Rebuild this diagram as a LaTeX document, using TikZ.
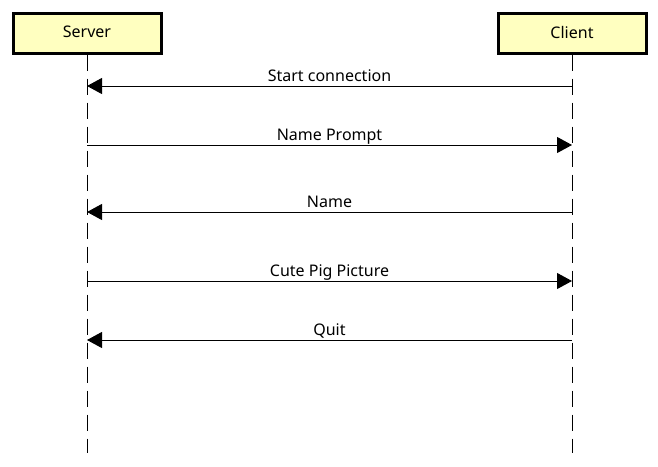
\documentclass[tikz,border=0pt]{standalone}
\usepackage{fontspec}
\setmainfont{Noto Sans}
\usetikzlibrary{arrows.meta}
\definecolor{boxfill}{HTML}{FFFFC0}
\begin{document}
\begin{tikzpicture}[x=1pt,y=-1pt,
  actor/.style={draw=black,line width=3pt,fill=boxfill,minimum width=148pt,minimum height=40pt,inner sep=0pt,font=\fontsize{16}{19}\selectfont},
  lifeline/.style={line width=1pt,dash pattern=on 16pt off 8pt},
  msg/.style={line width=1pt,-{Triangle[length=15pt,width=16pt]}},
  lbl/.style={font=\fontsize{16}{19}\selectfont,inner sep=0pt,anchor=base,yshift=5pt}]
\useasboundingbox (0,0) rectangle (658,466);
\node[actor] (server) at (87,33) {\raisebox{2pt}{Server}};
\node[actor] (client) at (572,33) {\raisebox{2pt}{Client}};
\coordinate (sEnd) at (87,453);
\coordinate (cEnd) at (572,453);
\draw[lifeline] (server.south) -- (sEnd);
\draw[lifeline] (client.south) -- (cEnd);
\foreach \n/\y in {1/86,2/145,3/212,4/281,5/340}{
  \coordinate (s\n) at (87,\y);
  \coordinate (c\n) at (572,\y);
}
\draw[msg] (c1) -- node[lbl] {Start connection} (s1);
\draw[msg] (s2) -- node[lbl] {Name Prompt} (c2);
\draw[msg] (c3) -- node[lbl] {Name} (s3);
\draw[msg] (s4) -- node[lbl] {Cute Pig Picture} (c4);
\draw[msg] (c5) -- node[lbl] {Quit} (s5);
\end{tikzpicture}
\end{document}
